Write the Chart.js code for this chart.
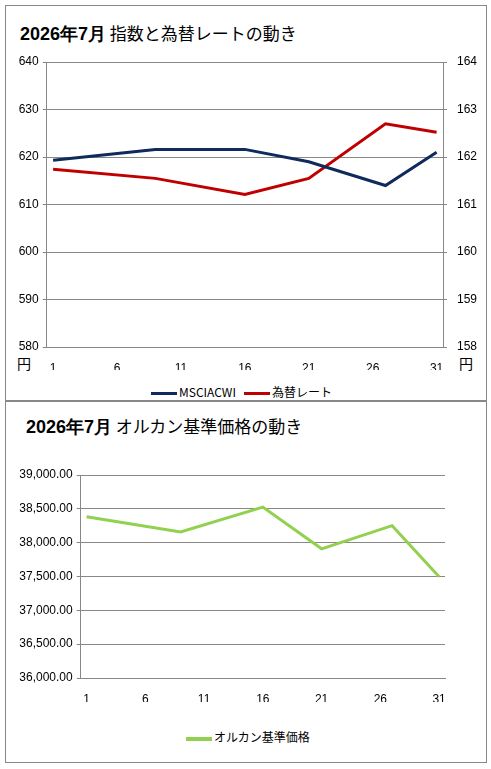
<!DOCTYPE html>
<html>
<head>
<meta charset="utf-8">
<script src="https://cdn.jsdelivr.net/npm/chart.js@4"></script>
<style>
  body { margin: 0; background: #fff; font-family: "Noto Sans CJK JP", sans-serif; }
  .box { position: absolute; border: 1px solid #888; box-sizing: border-box; }
  .title { position: absolute; font-size: 17px; color: #000; white-space: nowrap; }
  .title b { font-family: "Liberation Sans", sans-serif; font-size: 18px; }
  .lab { position: absolute; font-size: 14px; color: #000; }
  .legend { position: absolute; font-size: 12px; color: #000; white-space: nowrap; }
  .legend span.sw { display: inline-block; width: 26px; height: 3px; vertical-align: middle; margin-right: 2px; }
  .legend span.sw.g { height: 4px; }
</style>
</head>
<body>
<div class="box" style="left:5px;top:5px;width:482px;height:396px"></div>
<div class="box" style="left:5px;top:401px;width:482px;height:362px"></div>
<div class="title" style="left:20px;top:20px"><b>2026年7月</b> 指数と為替レートの動き</div>
<div class="title" style="left:26px;top:413px"><b>2026年7月</b> オルカン基準価格の動き</div>
<div class="lab" style="left:17px;top:353px">円</div>
<div class="lab" style="left:459px;top:353px">円</div>
<div class="legend" style="left:151px;top:383px"><span class="sw" style="background:#0f2a5c"></span>MSCIACWI&nbsp;&nbsp;&nbsp;<span class="sw" style="background:#c00000"></span>為替レート</div>
<div class="legend" style="left:186px;top:728px"><span class="sw g" style="background:#92d050"></span>オルカン基準価格</div>

<canvas id="top" style="position:absolute;left:6px;top:6px"></canvas>
<canvas id="bottom" style="position:absolute;left:6px;top:402px"></canvas>

<script>
const days = [1, 9, 16, 21, 27, 31];
const dayTicks = [1, 6, 11, 16, 21, 26, 31];
const msciValues = [619.3, 621.6, 621.6, 619.0, 614.0, 621.0];
const fxValues = [161.74, 161.55, 161.21, 161.55, 162.70, 162.52];
const orukanValues = [38383, 38158, 38525, 37909, 38251, 37497];

const pts = (xs, ys) => xs.map((x, i) => ({ x: x, y: ys[i] }));
const tickFont = { family: '"Liberation Sans", sans-serif', size: 12 };

function xAxis(height) {
    return {
        type: 'linear', min: 0.5, max: 31.5,
        afterBuildTicks: (a) => { a.ticks = dayTicks.map(v => ({ value: v })); },
        afterFit: (a) => { a.height = height; },
        grid: { display: false },
        border: { color: '#888' },
        ticks: { color: '#000', font: tickFont, autoSkip: false, maxRotation: 0, padding: 6 }
    };
}

function fixWidth(w) { return (a) => { a.width = w; }; }

document.addEventListener('DOMContentLoaded', function () {
    const topCanvas = document.getElementById('top');
    topCanvas.width = 480; topCanvas.height = 394;
    topCanvas.style.width = '480px'; topCanvas.style.height = '394px';
    new Chart(topCanvas, {
        type: 'line',
        data: {
            datasets: [{
                label: 'MSCIACWI', data: pts(days, msciValues), yAxisID: 'y',
                borderColor: '#0f2a5c', borderWidth: 3, pointRadius: 0, tension: 0
            }, {
                label: '為替レート', data: pts(days, fxValues), yAxisID: 'y2',
                borderColor: '#c00000', borderWidth: 3, pointRadius: 0, tension: 0
            }]
        },
        options: {
            responsive: false, animation: false,
            layout: { padding: { top: 56, bottom: 30, left: 0, right: 0 } },
            plugins: { legend: { display: false }, tooltip: { enabled: false } },
            scales: {
                x: xAxis(23),
                y: {
                    position: 'left', min: 580, max: 640,
                    ticks: { stepSize: 10, color: '#000', font: tickFont, padding: 4 },
                    grid: { color: '#888', tickLength: 4 },
                    border: { color: '#888' },
                    afterFit: fixWidth(40.7)
                },
                y2: {
                    position: 'right', min: 158, max: 164,
                    ticks: { stepSize: 1, color: '#000', font: tickFont, padding: 10 },
                    grid: { drawOnChartArea: false, color: '#888', tickLength: 4 },
                    border: { color: '#888' },
                    afterFit: fixWidth(43)
                }
            }
        }
    });

    const botCanvas = document.getElementById('bottom');
    botCanvas.width = 480; botCanvas.height = 360;
    botCanvas.style.width = '480px'; botCanvas.style.height = '360px';
    new Chart(botCanvas, {
        type: 'line',
        data: {
            datasets: [{
                label: 'オルカン基準価格', data: pts(days, orukanValues),
                borderColor: '#92d050', borderWidth: 3, pointRadius: 0, tension: 0
            }]
        },
        options: {
            responsive: false, animation: false,
            layout: { padding: { top: 73, bottom: 60, left: 0, right: 41 } },
            plugins: { legend: { display: false }, tooltip: { enabled: false } },
            scales: {
                x: xAxis(24),
                y: {
                    min: 36000, max: 39000,
                    ticks: {
                        stepSize: 500, color: '#000', font: tickFont, padding: 4,
                        callback: v => v.toLocaleString('en-US', { minimumFractionDigits: 2, maximumFractionDigits: 2 })
                    },
                    grid: { color: '#888', tickLength: 4 },
                    border: { color: '#888' },
                    afterFit: fixWidth(74.7)
                }
            }
        }
    });
});
</script>
</body>
</html>
